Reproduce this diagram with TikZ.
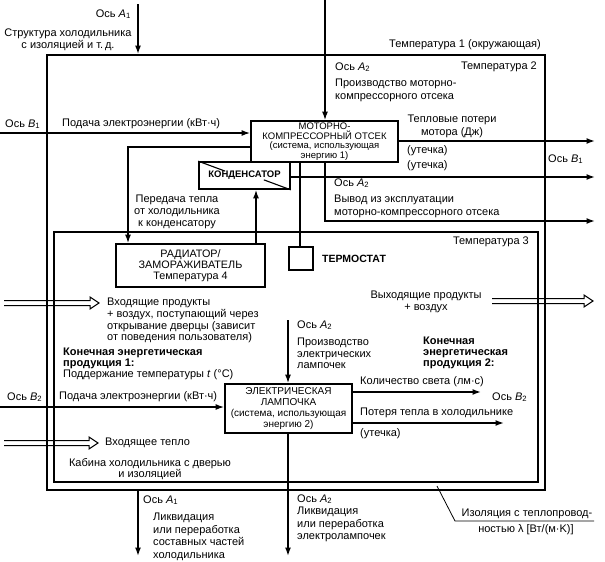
\documentclass[tikz,border=0pt]{standalone}
\usepackage{fontspec}
\setmainfont{Liberation Sans}
\usetikzlibrary{arrows.meta}
\newcommand\Ax[2]{Ось \textit{#1}\textsubscript{#2}}
\begin{document}
\begin{tikzpicture}[x=1pt,y=-1pt,
  font=\fontsize{11}{12}\selectfont,
  box/.style={draw, line width=1.7pt, inner sep=0, align=center},
  frame/.style={draw, line width=1.8pt, inner sep=0},
  ln/.style={line width=1.5pt},
  arr/.style={line width=1.5pt, -{Latex[length=8.5pt,width=6pt]}},
  txt/.style={inner sep=0, align=left},
  ctxt/.style={inner sep=0, align=center},
  hollow/.style={line width=1pt, line join=miter},
  bx/.style={font=\fontsize{9.5}{9.4}\selectfont},
]
\useasboundingbox (0,0) rectangle (605,562);

% frames
\node[frame, minimum width=498pt, minimum height=435pt] (outer) at (296,272.5) {};
\node[frame, minimum width=484pt, minimum height=250pt] (inner) at (296,357) {};

% boxes
\node[box, bx, minimum width=147pt, minimum height=41pt] (motor) at (324.5,141.5)
  {\rule{0pt}{7pt}МОТОРНО-\\КОМПРЕССОРНЫЙ ОТСЕК\\(система, использующая\\энергию 1)};
\node[box, minimum width=91pt, minimum height=27pt, font=\bfseries\fontsize{9.5}{10.5}\selectfont] (cond) at (244.5,175.5) {КОНДЕНСАТОР};
\draw[line width=1.1pt] (cond.north west) -- ++(27,10);
\draw[line width=1.1pt] (cond.south east) -- ++(-27,-10);
\node[box, font=\fontsize{10.8}{10.8}\selectfont, minimum width=149pt, minimum height=43pt] (rad) at (190.5,265.5)
  {РАДИАТОР/\\ЗАМОРАЖИВАТЕЛЬ\\Температура 4};
\node[box, minimum width=24pt, minimum height=23pt] (thermo) at (301,258.5) {};
\node[box, font=\fontsize{10}{10.7}\selectfont, minimum width=127pt, minimum height=49pt] (lamp) at (288.5,408.5)
  {ЭЛЕКТРИЧЕСКАЯ\\ЛАМПОЧКА\\(система, использующая\\энергию 2)};

% connectors
\coordinate (a1top) at (138,4);
\draw[arr] (a1top) -- (a1top |- outer.north);
\coordinate (a2top) at (325,0);
\draw[arr] (a2top) -- (a2top |- motor.north);
\coordinate (b1in) at (0,133);
\draw[arr] (b1in) -- (b1in -| motor.west);
\draw[arr] (motor.west |- 0,147) -- (128,147) -- (128,0 |- rad.north);
\draw[arr] (256,0 |- rad.north) -- (256,0 |- cond.south);
\draw[ln] (300,0 |- motor.south) -- (300,0 |- thermo.north);
\coordinate (r1) at (595,141);
\draw[arr] (motor.east |- r1) -- (r1);
\coordinate (r2) at (595,177);
\draw[arr] (cond.east |- r2) -- (r2);
\coordinate (r3) at (595,221);
\draw[arr] (325,0 |- motor.south) -- (325,0 |- r3) -- (r3);
\coordinate (b2in) at (0,407);
\draw[arr] (b2in) -- (b2in -| lamp.west);
\coordinate (a2l) at (288,320);
\draw[arr] (a2l) -- (a2l |- lamp.north);
\coordinate (a2b) at (288,556);
\draw[arr] (a2b |- lamp.south) -- (a2b);
\coordinate (lightend) at (481,392);
\draw[arr] (lamp.east |- lightend) -- (lightend);
\coordinate (heatend) at (504,423);
\draw[arr] (lamp.east |- heatend) -- (heatend);
\coordinate (a1b) at (138,556);
\draw[arr] (a1b |- outer.south) -- (a1b);

% insulation leader
\coordinate (ins1) at (437,486);
\coordinate (ins2) at (455,521);
\coordinate (ins3) at (594,521);
\draw[line width=0.8pt] (ins1) -- (ins2) -- (ins3);

% hollow arrows
\draw[hollow] (4,300.5) -- (90,300.5) -- (90,297) -- (99,303) -- (90,309) -- (90,305.5) -- (4,305.5);
\draw[hollow] (492,298.5) -- (584,298.5) -- (584,295) -- (593,301) -- (584,307) -- (584,303.5) -- (492,303.5);
\draw[hollow] (4,440.5) -- (89,440.5) -- (89,437) -- (98,443) -- (89,449) -- (89,445.5) -- (4,445.5);

% texts
\node[txt, anchor=east] (t1) at (131,14) {\Ax{A}{1}};
\node[ctxt, anchor=north] (t2) at (68,29) {Структура холодильника\\с изоляцией и т.\,д.};
\node[txt, anchor=west] (t3) at (335,67) {\Ax{A}{2}};
\node[txt, anchor=north west, font=\fontsize{11}{13}\selectfont] (t4) at (335,79) {Производство моторно-\\компрессорного отсека};
\node[txt, anchor=east] (t5) at (541,45) {Температура 1 (окружающая)};
\node[txt, anchor=east] (t6) at (537,67) {Температура 2};
\node[ctxt, anchor=north, font=\fontsize{11}{13}\selectfont] (t7) at (452,115) {Тепловые потери\\мотора (Дж)};
\node[txt, anchor=west] (t8) at (407,151) {(утечка)};
\node[txt, anchor=west] (t9) at (407,166) {(утечка)};
\node[txt, anchor=west] (t10) at (548,159) {\Ax{B}{1}};
\node[txt, anchor=west] (t11) at (5,124) {\Ax{B}{1}};
\node[txt, anchor=west] (t12) at (62,124) {Подача электроэнергии (кВт·ч)};
\node[txt, anchor=west] (t13) at (334,183) {\Ax{A}{2}};
\node[txt, anchor=north west, font=\fontsize{11}{13}\selectfont] (t14) at (334,195) {Вывод из эксплуатации\\моторно-компрессорного отсека};
\node[ctxt, anchor=north] (t15) at (177,195) {Передача тепла\\от холодильника\\к конденсатору};
\node[txt, anchor=east] (t16) at (529,242) {Температура 3};
\node[txt, anchor=west, font=\bfseries\fontsize{10.5}{12}\selectfont] (t17) at (322,259) {ТЕРМОСТАТ};
\node[txt, anchor=north west, font=\fontsize{11}{11.7}\selectfont] (t18) at (107,298) {Входящие продукты\\+ воздух, поступающий через\\открывание дверцы (зависит\\от поведения пользователя)};
\node[txt, anchor=north west, font=\fontsize{11}{11}\selectfont] (t19) at (63,348) {\textbf{Конечная энергетическая}\\\textbf{продукция 1:}\\Поддержание температуры \textit{t} (°C)};
\node[ctxt, anchor=north] (t20) at (426,291) {Выходящие продукты\\+ воздух};
\node[txt, anchor=west] (t21) at (297,325) {\Ax{A}{2}};
\node[txt, anchor=north west, font=\fontsize{11}{11.5}\selectfont] (t22) at (297,338) {Производство\\электрических\\лампочек};
\node[txt, anchor=north west, font=\bfseries\fontsize{11}{11}\selectfont] (t23) at (423,337) {Конечная\\энергетическая\\продукция 2:};
\node[txt, anchor=west] (t24) at (7,397) {\Ax{B}{2}};
\node[txt, anchor=west] (t25) at (59,397) {Подача электроэнергии (кВт·ч)};
\node[txt, anchor=west] (t26) at (360,382) {Количество света (лм·с)};
\node[txt, anchor=west] (t27) at (492,397) {\Ax{B}{2}};
\node[txt, anchor=west] (t28) at (360,413) {Потеря тепла в холодильнике};
\node[txt, anchor=west] (t29) at (360,434) {(утечка)};
\node[txt, anchor=west] (t30) at (105,443) {Входящее тепло};
\node[ctxt, anchor=north, font=\fontsize{11}{11}\selectfont] (t31) at (150,458) {Кабина холодильника с дверью\\и изоляцией};
\node[txt, anchor=west] (t32) at (143,500) {\Ax{A}{1}};
\node[txt, anchor=north west, font=\fontsize{11}{12.5}\selectfont] (t33) at (153,513) {Ликвидация\\или переработка\\составных частей\\холодильника};
\node[txt, anchor=west] (t34) at (297,499) {\Ax{A}{2}};
\node[txt, anchor=north west, font=\fontsize{11}{12.5}\selectfont] (t35) at (297,507) {Ликвидация\\или переработка\\электролампочек};
\node[ctxt, anchor=center] (t36) at (527,514) {Изоляция с теплопровод-};
\node[ctxt, anchor=center] (t37) at (526,530) {ностью λ [Вт/(м·K)]};
\end{tikzpicture}
\end{document}
